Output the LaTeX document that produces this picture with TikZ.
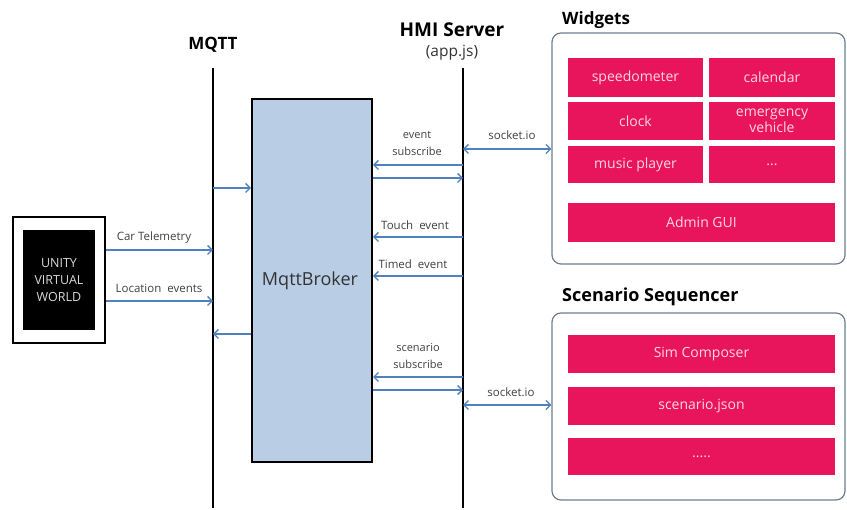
\documentclass[tikz,border=0pt]{standalone}
\usepackage{fontspec}
\setmainfont{Open Sans}
\usetikzlibrary{arrows.meta}
\definecolor{flowblue}{RGB}{79,129,189}
\definecolor{brokerfill}{RGB}{185,205,229}
\definecolor{widgetpink}{RGB}{232,20,92}
\definecolor{panelline}{RGB}{110,125,145}
\definecolor{celltext}{RGB}{255,215,228}
\begin{document}
\begin{tikzpicture}[x=1pt,y=-1pt,
  title/.style={font=\bfseries\fontsize{17}{19}\selectfont, inner sep=0pt},
  small/.style={font=\fontsize{11.5}{12}\selectfont, text=black!75, inner sep=0pt},
  lifeline/.style={line width=2.2pt},
  flow/.style={draw=flowblue, line width=1.3pt, -{Straight Barb[length=4.5pt,width=9pt]}},
  bothflow/.style={draw=flowblue, line width=1.3pt, {Straight Barb[length=4.5pt,width=9pt]}-{Straight Barb[length=4.5pt,width=9pt]}},
  panel/.style={draw=panelline, line width=1.2pt, rounded corners=9pt},
  cell/.style={fill=widgetpink, text=celltext, inner sep=0pt, align=center,
    font=\fontsize{14}{14}\selectfont},
]
\useasboundingbox (0,0) rectangle (847,510);

% column headings
\node[title] (mqttlbl) at (213,45) {MQTT};
\node[title, font=\bfseries\fontsize{19}{21}\selectfont] (hmilbl) at (452,30) {HMI Server};
\node[font=\fontsize{15.5}{17}\selectfont, inner sep=0pt, text=black!80] (applbl) at (452,53) {(app.js)};
\node[title, anchor=west] (widlbl) at (562,20) {Widgets};
\node[title, anchor=west, font=\bfseries\fontsize{18}{20}\selectfont] (seqlbl) at (562,297) {Scenario Sequencer};

% lifelines
\coordinate (mqttTop) at (213,68);
\coordinate (mqttBot) at (213,508);
\coordinate (hmiTop) at (463,68);
\coordinate (hmiBot) at (463,508);
\draw[lifeline] (mqttTop) -- (mqttBot);
\draw[lifeline] (hmiTop) -- (hmiBot);

% broker
\node[draw=black, line width=2pt, fill=brokerfill, minimum width=120pt, minimum height=363pt,
  inner sep=0pt] (broker) at (312,280.5) {};
\node[font=\fontsize{18}{18}\selectfont, text=black!80, inner sep=0pt] (brokerlbl) at (310,281) {MqttBroker};

% simulator
\node[draw=black, line width=2pt, fill=white, minimum width=92pt, minimum height=126pt,
  inner sep=0pt] (unity) at (59,280) {};
\node[fill=black, minimum width=72pt, minimum height=100pt, inner sep=0pt, align=center,
  text=black!15, font=\fontsize{12.5}{17}\selectfont] (world) at (59,280) {UNITY\\VIRTUAL\\WORLD};

% simulator -> MQTT
\coordinate (mTel) at (213,250);
\coordinate (mLoc) at (213,301);
\draw[flow] (unity.east |- mTel) -- (mTel);
\draw[flow] (unity.east |- mLoc) -- (mLoc);
\node[small] (tellbl) at (154,238) {Car Telemetry};
\node[small] (loclbl) at (159,288) {Location\ \ events};

% MQTT <-> broker
\coordinate (mIn) at (213,188);
\coordinate (mOut) at (213,334);
\draw[flow] (mIn) -- (broker.west |- mIn);
\draw[flow] (broker.west |- mOut) -- (mOut);

% HMI server <-> broker
\coordinate (hSub) at (463,165);
\coordinate (hEvt) at (463,178);
\coordinate (hTouch) at (463,237);
\coordinate (hTimed) at (463,276);
\coordinate (hScn) at (463,377);
\coordinate (hScnEvt) at (463,390);
\draw[flow] (hSub) -- (broker.east |- hSub);
\draw[flow] (broker.east |- hEvt) -- (hEvt);
\draw[flow] (hTouch) -- (broker.east |- hTouch);
\draw[flow] (hTimed) -- (broker.east |- hTimed);
\draw[flow] (hScn) -- (broker.east |- hScn);
\draw[flow] (broker.east |- hScnEvt) -- (hScnEvt);
\node[small, align=center, font=\fontsize{11}{17}\selectfont] (sublbl) at (417,143.5) {event\\subscribe};
\node[small] (touchlbl) at (415,225) {Touch\ \ event};
\node[small] (timedlbl) at (413,264) {Timed\ \ event};
\node[small, align=center, font=\fontsize{11}{17}\selectfont] (scnlbl) at (418,356.5) {scenario\\subscribe};

% widgets panel
\node[panel, minimum width=293pt, minimum height=231pt, inner sep=0pt] (widgets) at (698.5,148.5) {};
\node[cell, minimum width=135pt, minimum height=39pt] (speedo) at (635.5,77.5) {speedometer};
\node[cell, minimum width=126pt, minimum height=39pt] (cal) at (772,77.5) {calendar};
\node[cell, minimum width=135pt, minimum height=38pt] (clock) at (635.5,121) {clock};
\node[cell, minimum width=126pt, minimum height=38pt, font=\fontsize{14}{16}\selectfont] (emerg) at (772,121) {emergency\\vehicle};
\node[cell, minimum width=135pt, minimum height=37pt] (music) at (635.5,164.5) {music player};
\node[cell, minimum width=126pt, minimum height=37pt] (more) at (772,164.5) {...};
\node[cell, minimum width=267pt, minimum height=39pt] (admin) at (701.5,222.5) {Admin GUI};

% scenario sequencer panel
\node[panel, minimum width=293pt, minimum height=187pt, inner sep=0pt] (seq) at (698.5,406.5) {};
\node[cell, minimum width=267pt, minimum height=38pt] (composer) at (701.5,354) {Sim Composer};
\node[cell, minimum width=267pt, minimum height=38pt] (json) at (701.5,406) {scenario.json};
\node[cell, minimum width=267pt, minimum height=37pt] (tail) at (701.5,456.5) {.....};

% HMI server <-> panels
\coordinate (hWid) at (463,149);
\coordinate (hSeq) at (463,405);
\draw[bothflow] (hWid) -- (widgets.west |- hWid);
\draw[bothflow] (hSeq) -- (seq.west |- hSeq);
\node[small] (sock1) at (512,135) {socket.io};
\node[small] (sock2) at (511,392) {socket.io};
\end{tikzpicture}
\end{document}
